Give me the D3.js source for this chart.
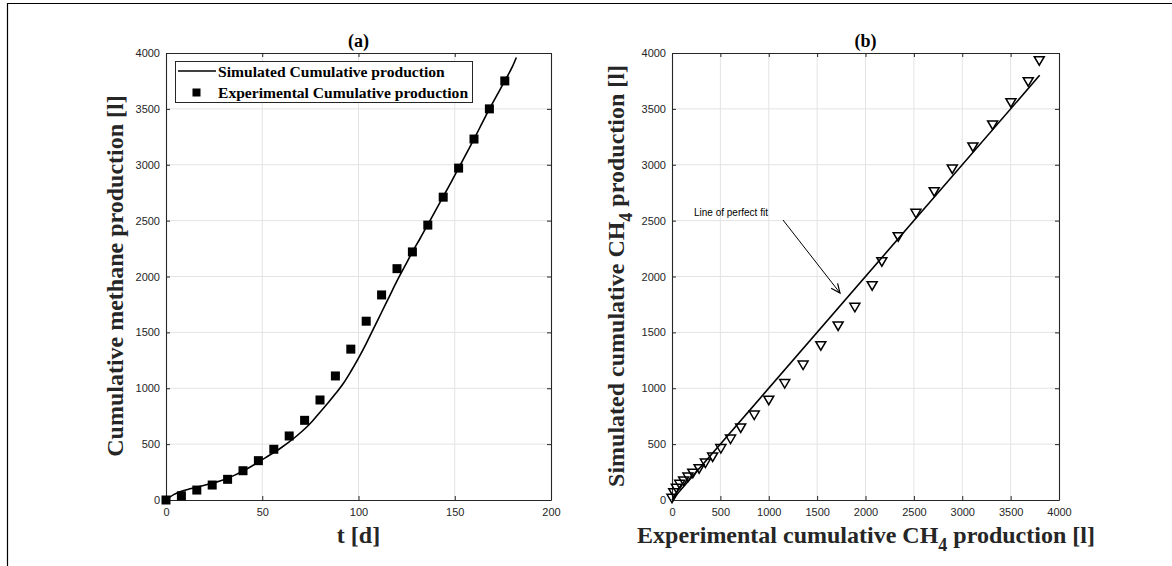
<!DOCTYPE html>
<html><head><meta charset="utf-8">
<script src="https://cdn.jsdelivr.net/npm/d3@7"></script>
<style>
body{margin:0;background:#fff;}
svg{display:block;}
.tick text{font-family:"Liberation Sans",Arial,sans-serif;font-size:11px;fill:#262626;}
</style></head>
<body>
<svg id="chart" width="1172" height="566"></svg>
<script>
// ---- Data: panel (a) ----
const expDays = [0,8,16,24,32,40,48,56,64,72,80,88,96,104,112,120,128,136,144,152,160,168,176];
const expCum = [0,38,89,134,185,262,352,454,573,713,895,1110,1350,1600,1835,2070,2220,2460,2710,2970,3230,3500,3750];
const simDays = [0,4,8,12,16,20,24,28,32,36,40,44,48,52,56,60,64,68,72,76,80,84,88,92,96,100,104,108,112,116,120,124,128,132,136,140,144,148,152,156,160,164,168,172,176,180,182];
const simCum = [0,48,78,98,115,132,150,170,195,225,260,298,340,382,425,470,520,575,635,705,785,865,950,1040,1150,1270,1400,1540,1680,1820,1960,2090,2220,2340,2465,2590,2715,2840,2970,3100,3230,3365,3500,3625,3750,3880,3960];
const xTicksA = [0,50,100,150,200];
const yTicks = [0,500,1000,1500,2000,2500,3000,3500,4000];
// ---- Data: panel (b) ----
const parityExp = [0,18,45,80,120,165,215,280,345,420,505,605,710,850,1000,1165,1355,1538,1717,1890,2069,2169,2338,2521,2710,2897,3110,3314,3503,3682,3796];
const paritySim = [15,65,105,140,170,205,240,280,330,385,460,545,645,760,893,1042,1208,1381,1557,1724,1918,2132,2356,2565,2759,2962,3159,3356,3555,3743,3931];
const fitLine = [0,3800];
const xTicksB = [0,500,1000,1500,2000,2500,3000,3500,4000];

const svg = d3.select("#chart");
const serif = "'Liberation Serif','Times New Roman',serif";
const sans = "'Liberation Sans',Arial,sans-serif";
const axisCol = "#262626", gridCol = "#e3e3e3";

// outer frame
svg.append("path").attr("d","M7.5,566 V3.5 H1172").attr("fill","none").attr("stroke","#000").attr("stroke-width",1.2);

const yScale = d3.scaleLinear().domain([0,4000]).range([500,53]);
const xA = d3.scaleLinear().domain([0,200]).range([166,551]);
const xB = d3.scaleLinear().domain([0,4000]).range([672,1059]);

function panel(x, xt){
  const g = svg.append("g");
  const [x0,x1] = x.range();
  const [y0,y1] = yScale.range();
  g.append("g").selectAll("line").data(xt.slice(1,-1)).join("line")
    .attr("x1",d=>x(d)).attr("x2",d=>x(d)).attr("y1",y0).attr("y2",y1)
    .attr("stroke",gridCol).attr("stroke-width",1);
  g.append("g").selectAll("line").data(yTicks.slice(1,-1)).join("line")
    .attr("y1",d=>yScale(d)).attr("y2",d=>yScale(d)).attr("x1",x0).attr("x2",x1)
    .attr("stroke",gridCol).attr("stroke-width",1);
  const ax = [
    g.append("g").attr("transform",`translate(0,${y0})`).call(d3.axisBottom(x).tickValues(xt).tickSize(-4).tickSizeOuter(0).tickPadding(8).tickFormat(d3.format("d"))),
    g.append("g").attr("transform",`translate(0,${y1})`).call(d3.axisTop(x).tickValues(xt).tickSize(-4).tickSizeOuter(0).tickFormat("")),
    g.append("g").attr("transform",`translate(${x0},0)`).call(d3.axisLeft(yScale).tickValues(yTicks).tickSize(-4).tickSizeOuter(0).tickPadding(6).tickFormat(d3.format("d"))),
    g.append("g").attr("transform",`translate(${x1},0)`).call(d3.axisRight(yScale).tickValues(yTicks).tickSize(-4).tickSizeOuter(0).tickFormat(""))
  ];
  ax.forEach(a=>{a.selectAll("path,line").attr("stroke",axisCol); a.select(".domain").attr("stroke-width",1.1);});
  return g;
}

// ---- Panel (a) ----
const gA = panel(xA, xTicksA);
gA.append("path").datum(simDays.map((d,i)=>[d,simCum[i]]))
  .attr("d", d3.line().x(d=>xA(d[0])).y(d=>yScale(d[1])).curve(d3.curveMonotoneX))
  .attr("fill","none").attr("stroke","#000").attr("stroke-width",1.6);
gA.append("g").selectAll("rect").data(expDays.map((d,i)=>[d,expCum[i]])).join("rect")
  .attr("x",d=>xA(d[0])-4.5).attr("y",d=>yScale(d[1])-4.5).attr("width",9).attr("height",9).attr("fill","#000");
svg.append("text").attr("x",358.5).attr("y",47).attr("text-anchor","middle")
  .attr("font-family",serif).attr("font-weight","bold").attr("font-size",18).text("(a)");
svg.append("text").attr("transform","translate(123,276) rotate(-90)").attr("text-anchor","middle")
  .attr("font-family",serif).attr("font-weight","bold").attr("font-size",24).attr("fill","#262626")
  .text("Cumulative methane production [l]");
svg.append("text").attr("x",358.5).attr("y",543).attr("text-anchor","middle")
  .attr("font-family",serif).attr("font-weight","bold").attr("font-size",24).attr("fill","#262626")
  .text("t [d]");
// legend
const lg = svg.append("g");
lg.append("rect").attr("x",175.5).attr("y",61.5).attr("width",297).attr("height",41).attr("fill","#fff").attr("stroke","#262626").attr("stroke-width",1);
lg.append("line").attr("x1",178).attr("x2",216).attr("y1",71).attr("y2",71).attr("stroke","#000").attr("stroke-width",1.6);
lg.append("rect").attr("x",192.5).attr("y",88.5).attr("width",8).attr("height",8).attr("fill","#000");
lg.append("text").attr("x",218).attr("y",77).attr("font-family",serif).attr("font-weight","bold").attr("font-size",15.6).text("Simulated Cumulative production");
lg.append("text").attr("x",218).attr("y",97.5).attr("font-family",serif).attr("font-weight","bold").attr("font-size",15.6).text("Experimental Cumulative production");

// ---- Panel (b) ----
const gB = panel(xB, xTicksB);
gB.append("line").attr("x1",xB(fitLine[0])).attr("y1",yScale(fitLine[0])).attr("x2",xB(fitLine[1])).attr("y2",yScale(fitLine[1]))
  .attr("stroke","#000").attr("stroke-width",1.6);
gB.append("g").selectAll("path").data(parityExp.map((d,i)=>[d,paritySim[i]])).join("path")
  .attr("transform",d=>`translate(${xB(d[0])},${yScale(d[1])})`)
  .attr("d","M-5,-4 L5,-4 L0,4.5 Z").attr("fill","none").attr("stroke","#000").attr("stroke-width",1.5);
svg.append("text").attr("x",865.5).attr("y",47).attr("text-anchor","middle")
  .attr("font-family",serif).attr("font-weight","bold").attr("font-size",18).text("(b)");
const yl = svg.append("text").attr("transform","translate(624,276) rotate(-90)").attr("text-anchor","middle")
  .attr("font-family",serif).attr("font-weight","bold").attr("font-size",24).attr("fill","#262626");
yl.append("tspan").text("Simulated cumulative CH");
yl.append("tspan").attr("dy",8).attr("font-size",18).text("4");
yl.append("tspan").attr("dy",-8).text(" production [l]");
const xl = svg.append("text").attr("x",866).attr("y",543).attr("text-anchor","middle")
  .attr("font-family",serif).attr("font-weight","bold").attr("font-size",24).attr("fill","#262626");
xl.append("tspan").text("Experimental cumulative CH");
xl.append("tspan").attr("dy",8).attr("font-size",18).text("4");
xl.append("tspan").attr("dy",-8).text(" production [l]");
// annotation
svg.append("text").attr("x",694).attr("y",216).attr("font-family",sans).attr("font-size",10).attr("fill","#000").text("Line of perfect fit");
svg.append("line").attr("x1",783).attr("y1",220).attr("x2",840).attr("y2",293).attr("stroke","#000").attr("stroke-width",1);
(function(){
  const ang = Math.atan2(293-220,840-783);
  const L = 10, a = 0.42;
  const p1 = [840 - L*Math.cos(ang-a), 293 - L*Math.sin(ang-a)];
  const p2 = [840 - L*Math.cos(ang+a), 293 - L*Math.sin(ang+a)];
  svg.append("path").attr("d",`M${p1[0]},${p1[1]} L840,293 L${p2[0]},${p2[1]}`).attr("fill","none").attr("stroke","#000").attr("stroke-width",1.2);
})();
</script>
</body></html>
